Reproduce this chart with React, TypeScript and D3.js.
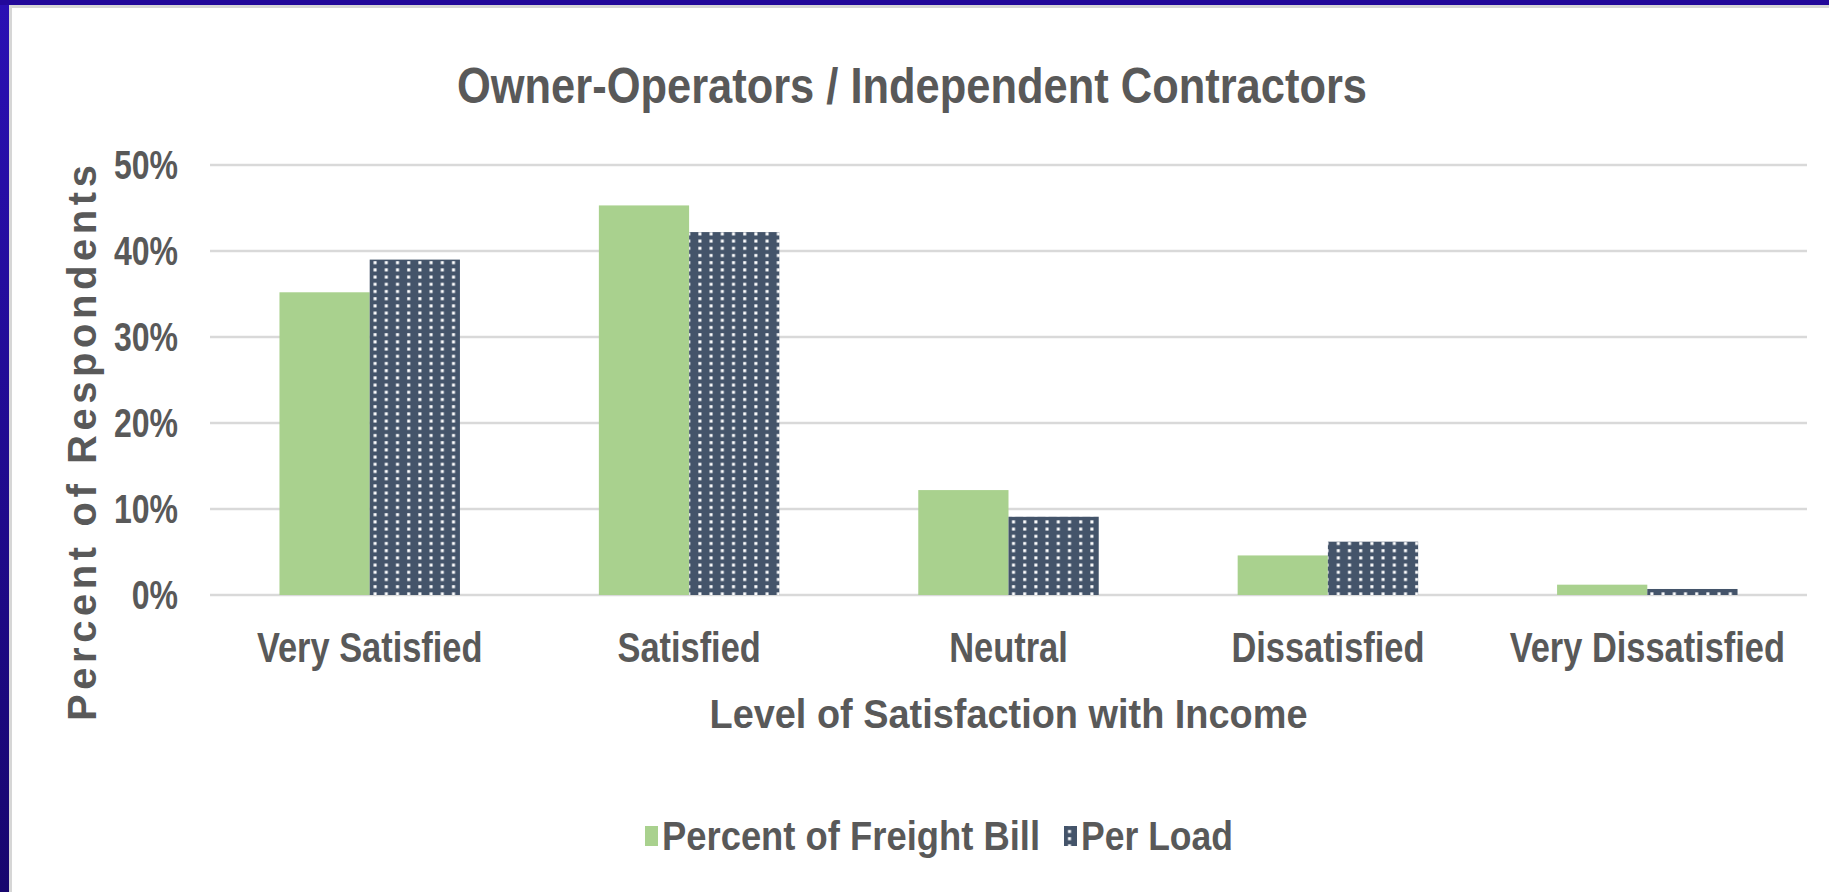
import React, { useEffect, useRef } from 'react';
import * as d3 from 'd3';

const CATEGORIES = ['Very Satisfied', 'Satisfied', 'Neutral', 'Dissatisfied', 'Very Dissatisfied'];
const SERIES_NAMES = ['Percent of Freight Bill', 'Per Load'];
const FREIGHT_BILL = [35.2, 45.3, 12.2, 4.6, 1.2];
const PER_LOAD = [39.0, 42.2, 9.1, 6.2, 0.7];
const Y_TICKS = [0, 10, 20, 30, 40, 50];

const TITLE = 'Owner-Operators / Independent Contractors';
const X_TITLE = 'Level of Satisfaction with Income';
const Y_TITLE = 'Percent of Respondents';

const W = 1829;
const H = 892;
const TEXT = '#595959';
const GREEN = '#A9D18E';
const NAVY = '#44546A';
const FONT = '"Liberation Sans", Arial, sans-serif';
// the source uses a condensed face; squeeze Liberation Sans horizontally
const NARROW = 0.8;

export default function App() {
  const svgRef = useRef<SVGSVGElement>(null);

  useEffect(() => {
    if (!svgRef.current) return;
    document.body.style.margin = '0';

    const svg = d3.select(svgRef.current);
    svg.selectAll('*').remove();

    const plot = { left: 210, right: 1807, top: 165, bottom: 595 };

    const defs = svg.append('defs');

    // blue slide frame
    const frame = defs.append('linearGradient')
      .attr('id', 'frame-grad')
      .attr('x1', '0%').attr('y1', '0%')
      .attr('x2', '0%').attr('y2', '100%');
    frame.append('stop').attr('offset', '0%').attr('stop-color', '#2a10b4');
    frame.append('stop').attr('offset', '100%').attr('stop-color', '#17066e');

    // dotted fill for the "Per Load" bars
    const pat = defs.append('pattern')
      .attr('id', 'dots')
      .attr('patternUnits', 'userSpaceOnUse')
      .attr('width', 11.2)
      .attr('height', 7.2);
    pat.append('rect').attr('width', 11.2).attr('height', 7.2).attr('fill', NAVY);
    pat.append('rect').attr('x', 4).attr('y', 2).attr('width', 3).attr('height', 3).attr('fill', '#ffffff');

    svg.append('rect').attr('width', W).attr('height', H).attr('fill', '#ffffff');
    svg.append('rect').attr('x', 0).attr('y', 0).attr('width', 9).attr('height', H).attr('fill', 'url(#frame-grad)');
    svg.append('rect').attr('x', 0).attr('y', 0).attr('width', W).attr('height', 5).attr('fill', '#22089a');
    svg.append('rect').attr('x', 9).attr('y', 5).attr('width', 3).attr('height', H - 5).attr('fill', '#d6d6d6');
    svg.append('rect').attr('x', 9).attr('y', 5).attr('width', W - 9).attr('height', 3).attr('fill', '#d6d6d6');

    // scales
    const x = d3.scaleBand<string>()
      .domain(CATEGORIES)
      .range([plot.left, plot.right])
      .paddingInner(0)
      .paddingOuter(0);

    const groupWidth = x.bandwidth() * 0.565;
    const xInner = d3.scaleBand<string>()
      .domain(SERIES_NAMES)
      .range([0, groupWidth]);

    const y = d3.scaleLinear()
      .domain([0, 50])
      .range([plot.bottom, plot.top]);

    // gridlines
    svg.append('g')
      .selectAll('line')
      .data(Y_TICKS)
      .enter()
      .append('line')
      .attr('x1', plot.left)
      .attr('x2', plot.right)
      .attr('y1', d => y(d))
      .attr('y2', d => y(d))
      .attr('stroke', '#d9d9d9')
      .attr('stroke-width', 2.5);

    // y tick labels
    svg.append('g')
      .selectAll('text')
      .data(Y_TICKS)
      .enter()
      .append('text')
      .attr('transform', d => `translate(178,${y(d) + 14}) scale(${NARROW},1)`)
      .attr('text-anchor', 'end')
      .attr('fill', TEXT)
      .attr('font-family', FONT)
      .attr('font-weight', 'bold')
      .attr('font-size', 40)
      .text(d => `${d}%`);

    // bars
    const seriesValues = [FREIGHT_BILL, PER_LOAD];
    const seriesFill = [GREEN, 'url(#dots)'];
    SERIES_NAMES.forEach((name, si) => {
      svg.append('g')
        .selectAll('rect')
        .data(CATEGORIES)
        .enter()
        .append('rect')
        .attr('x', c => (x(c) as number) + x.bandwidth() / 2 - groupWidth / 2 + (xInner(name) as number))
        .attr('y', (c, i) => y(seriesValues[si][i]))
        .attr('width', xInner.bandwidth())
        .attr('height', (c, i) => y(0) - y(seriesValues[si][i]))
        .attr('fill', seriesFill[si]);
    });

    // category labels
    svg.append('g')
      .selectAll('text')
      .data(CATEGORIES)
      .enter()
      .append('text')
      .attr('transform', c => `translate(${(x(c) as number) + x.bandwidth() / 2},662) scale(${NARROW},1)`)
      .attr('text-anchor', 'middle')
      .attr('fill', TEXT)
      .attr('font-family', FONT)
      .attr('font-weight', 'bold')
      .attr('font-size', 43)
      .text(c => c);

    // title
    svg.append('text')
      .attr('x', 912)
      .attr('y', 103)
      .attr('text-anchor', 'middle')
      .attr('fill', TEXT)
      .attr('font-family', FONT)
      .attr('font-weight', 'bold')
      .attr('font-size', 50)
      .attr('textLength', 910)
      .attr('lengthAdjust', 'spacingAndGlyphs')
      .text(TITLE);

    // x axis title
    svg.append('text')
      .attr('x', (plot.left + plot.right) / 2)
      .attr('y', 728)
      .attr('text-anchor', 'middle')
      .attr('fill', TEXT)
      .attr('font-family', FONT)
      .attr('font-weight', 'bold')
      .attr('font-size', 41)
      .attr('textLength', 598)
      .attr('lengthAdjust', 'spacingAndGlyphs')
      .text(X_TITLE);

    // y axis title
    svg.append('text')
      .attr('transform', 'translate(96,443) rotate(-90)')
      .attr('text-anchor', 'middle')
      .attr('fill', TEXT)
      .attr('font-family', FONT)
      .attr('font-weight', 'bold')
      .attr('font-size', 40)
      .attr('textLength', 556)
      .attr('lengthAdjust', 'spacing')
      .text(Y_TITLE);

    // legend
    const legendItems = [
      { name: SERIES_NAMES[0], fill: GREEN, sx: 645, tx: 662, tw: 378 },
      { name: SERIES_NAMES[1], fill: 'url(#dots)', sx: 1064, tx: 1081, tw: 152 },
    ];
    const legend = svg.append('g');
    legend.selectAll('rect')
      .data(legendItems)
      .enter()
      .append('rect')
      .attr('x', d => d.sx)
      .attr('y', 826)
      .attr('width', 13)
      .attr('height', 20)
      .attr('fill', d => d.fill);
    legend.selectAll('text')
      .data(legendItems)
      .enter()
      .append('text')
      .attr('x', d => d.tx)
      .attr('y', 850)
      .attr('fill', TEXT)
      .attr('font-family', FONT)
      .attr('font-weight', 'bold')
      .attr('font-size', 40)
      .attr('textLength', d => d.tw)
      .attr('lengthAdjust', 'spacingAndGlyphs')
      .text(d => d.name);
  }, []);

  return (
    <svg
      ref={svgRef}
      width={W}
      height={H}
      style={{ position: 'absolute', left: 0, top: 0, display: 'block' }}
    />
  );
}
